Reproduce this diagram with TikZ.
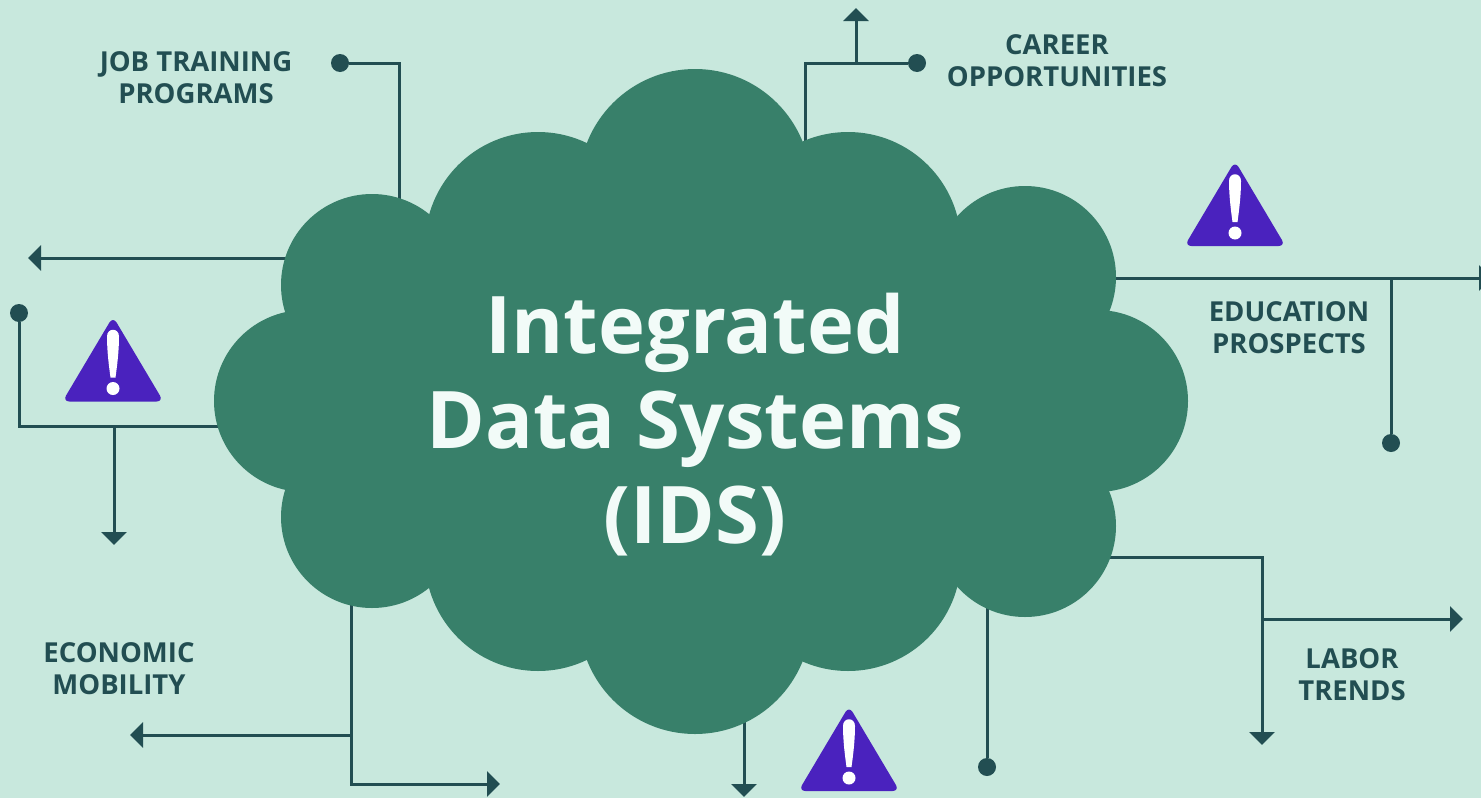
\documentclass[tikz,border=0pt]{standalone}
\usepackage{fontspec}
\setmainfont{Open Sans}
\usetikzlibrary{arrows.meta}
\definecolor{bgc}{HTML}{C8E8DD}
\definecolor{cloudc}{HTML}{38806A}
\definecolor{darkc}{HTML}{224E52}
\definecolor{warnc}{HTML}{4A22BE}
\definecolor{titlec}{HTML}{F2FBF8}
\tikzset{
  link/.style={draw=darkc,line width=3pt},
  arrowlink/.style={link,-{Triangle[length=13pt,width=25pt]}},
  dotend/.style={circle,fill=darkc,minimum size=18pt,inner sep=0pt},
  lobe/.style={fill=cloudc,draw=none},
  lab/.style={text=darkc,font=\fontsize{27.5}{32}\selectfont\bfseries,align=center},
  title/.style={text=titlec,font=\fontsize{79.5}{95}\selectfont\bfseries,align=center},
  warn/.pic={
    \fill[warnc,rounded corners=7pt] (0,-80) -- (-50.500,5) -- (50.500,5) -- cycle;
    \fill[white] (-6,-60) .. controls (-6,-69) and (6,-69) .. (6,-60) .. controls (6,-45) and (4,-30) .. (2.5,-19) -- (-2.5,-19) .. controls (-4,-30) and (-6,-45) .. (-6,-60) -- cycle;
    \fill[white] (0,-8) circle (6.5);
  }
}
\begin{document}
\begin{tikzpicture}[x=1pt,y=-1pt]
\useasboundingbox[fill=bgc] (0,0) rectangle (1481,798);
% anchors on the cloud
\coordinate (c1) at (399.500,210);
\coordinate (c2) at (300,258);
\coordinate (c3) at (230,426);
\coordinate (c4) at (351,590);
\coordinate (c5) at (744,715);
\coordinate (c6) at (987,600);
\coordinate (c7) at (1100,557);
\coordinate (c8) at (1100,278);
\coordinate (c9) at (805,150);
% free ends
\node[dotend] (d1) at (340,63) {};
\node[dotend] (d2) at (19,313) {};
\node[dotend] (d3) at (987,767) {};
\node[dotend] (d4) at (1391,443) {};
\node[dotend] (d5) at (917,63) {};
\coordinate (a1) at (28,258);
\coordinate (a2) at (114,545);
\coordinate (a3) at (130,735);
\coordinate (a4) at (500,784);
\coordinate (a5) at (744,797);
\coordinate (a6) at (1262,745);
\coordinate (a7) at (1463,619);
\coordinate (a8) at (1492,278);
\coordinate (a9) at (856,8);
% junctions
\coordinate (j1) at (114,426);
\coordinate (j2) at (351,735);
\coordinate (j3) at (1262,619);
\coordinate (j4) at (1391,278);
\coordinate (j5) at (856,63);
% connectors
\draw[link] (c1) |- (d1);
\draw[arrowlink] (c2) -- (a1);
\draw[link] (c3) -| (d2);
\draw[arrowlink] (j1) -- (a2);
\draw[arrowlink] (c4) |- (a4);
\draw[arrowlink] (j2) -- (a3);
\draw[arrowlink] (c5) -- (a5);
\draw[link] (c6) -- (d3);
\draw[arrowlink] (c7) -| (a6);
\draw[arrowlink] (j3) -- (a7);
\draw[arrowlink] (c8) -- (a8);
\draw[link] (j4) -- (d4);
\draw[link] (c9) |- (d5);
\draw[arrowlink] (j5) -- (a9);
% cloud
\fill[lobe] (695,185) circle (116);
\fill[lobe] (695,618) circle (116);
\fill[lobe] (538,245) circle (113);
\fill[lobe] (848,245) circle (113);
\fill[lobe] (538,558) circle (113);
\fill[lobe] (848,558) circle (113);
\fill[lobe] (372,285) circle (91);
\fill[lobe] (1025,277) circle (91);
\fill[lobe] (372,517) circle (91);
\fill[lobe] (1025,526) circle (91);
\fill[lobe] (305,401) circle (91);
\fill[lobe] (1097,401) circle (91);
\fill[lobe] (372,250) rectangle (1025,555);
% text
\node[title] (t) at (695,425) {Integrated\\Data Systems\\(IDS)};
\node[lab] (l1) at (196,78) {JOB TRAINING\\PROGRAMS};
\node[lab] (l2) at (1057,61) {CAREER\\OPPORTUNITIES};
\node[lab] (l3) at (1289,328) {EDUCATION\\PROSPECTS};
\node[lab] (l4) at (1352,675) {LABOR\\TRENDS};
\node[lab] (l5) at (119,669) {ECONOMIC\\MOBILITY};
% warnings
\pic at (1235,241) {warn};
\pic at (113,396.500) {warn};
\pic at (849,786) {warn};
\end{tikzpicture}
\end{document}
